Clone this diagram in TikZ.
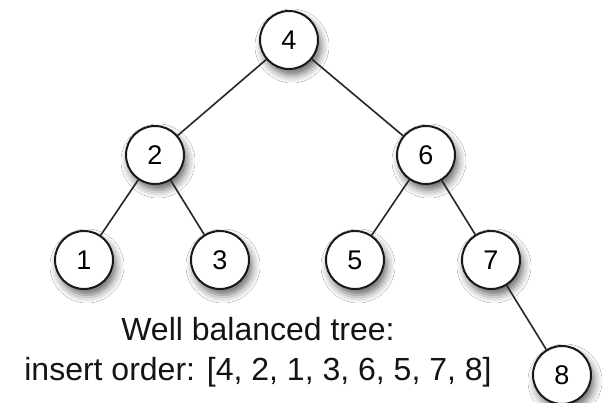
\documentclass[tikz,border=0pt]{standalone}
\usepackage{fontspec}
\setmainfont{Liberation Sans}
\usetikzlibrary{shadows.blur}
\begin{document}
\begin{tikzpicture}[x=1pt,y=-1pt,
  treenode/.style={circle, draw=black!90, line width=2pt, fill=white,
    minimum size=58pt, inner sep=0pt, font=\fontsize{27}{27}\selectfont,
    blur shadow={shadow xshift=3pt, shadow yshift=-6pt,
      shadow blur radius=8pt, shadow opacity=60}},
  link/.style={line width=1.6pt, draw=black!85}]
  \useasboundingbox (0,0) rectangle (602,402);
  \fill[white] (0,0) rectangle (602,402);

  % the tree's nodes
  \node[treenode] (n4) at (289,40) {4};
  \node[treenode] (n2) at (155,155) {2};
  \node[treenode] (n6) at (426,155) {6};
  \node[treenode] (n1) at (84,260) {1};
  \node[treenode] (n3) at (220,260) {3};
  \node[treenode] (n5) at (355,260) {5};
  \node[treenode] (n7) at (491,260) {7};
  \node[treenode] (n8) at (562,375) {8};

  % parent-child links
  \draw[link] (n4) -- (n2);
  \draw[link] (n4) -- (n6);
  \draw[link] (n2) -- (n1);
  \draw[link] (n2) -- (n3);
  \draw[link] (n6) -- (n5);
  \draw[link] (n6) -- (n7);
  \draw[link] (n7) -- (n8);

  % caption; the base anchor sits on the last line's baseline
  \node[anchor=base, align=center, inner sep=0pt, text=black!92,
    font=\fontsize{32}{40}\selectfont] (caption) at (258,380)
    {Well balanced tree:\\insert order: [4, 2, 1, 3, 6, 5, 7, 8]};
\end{tikzpicture}
\end{document}
